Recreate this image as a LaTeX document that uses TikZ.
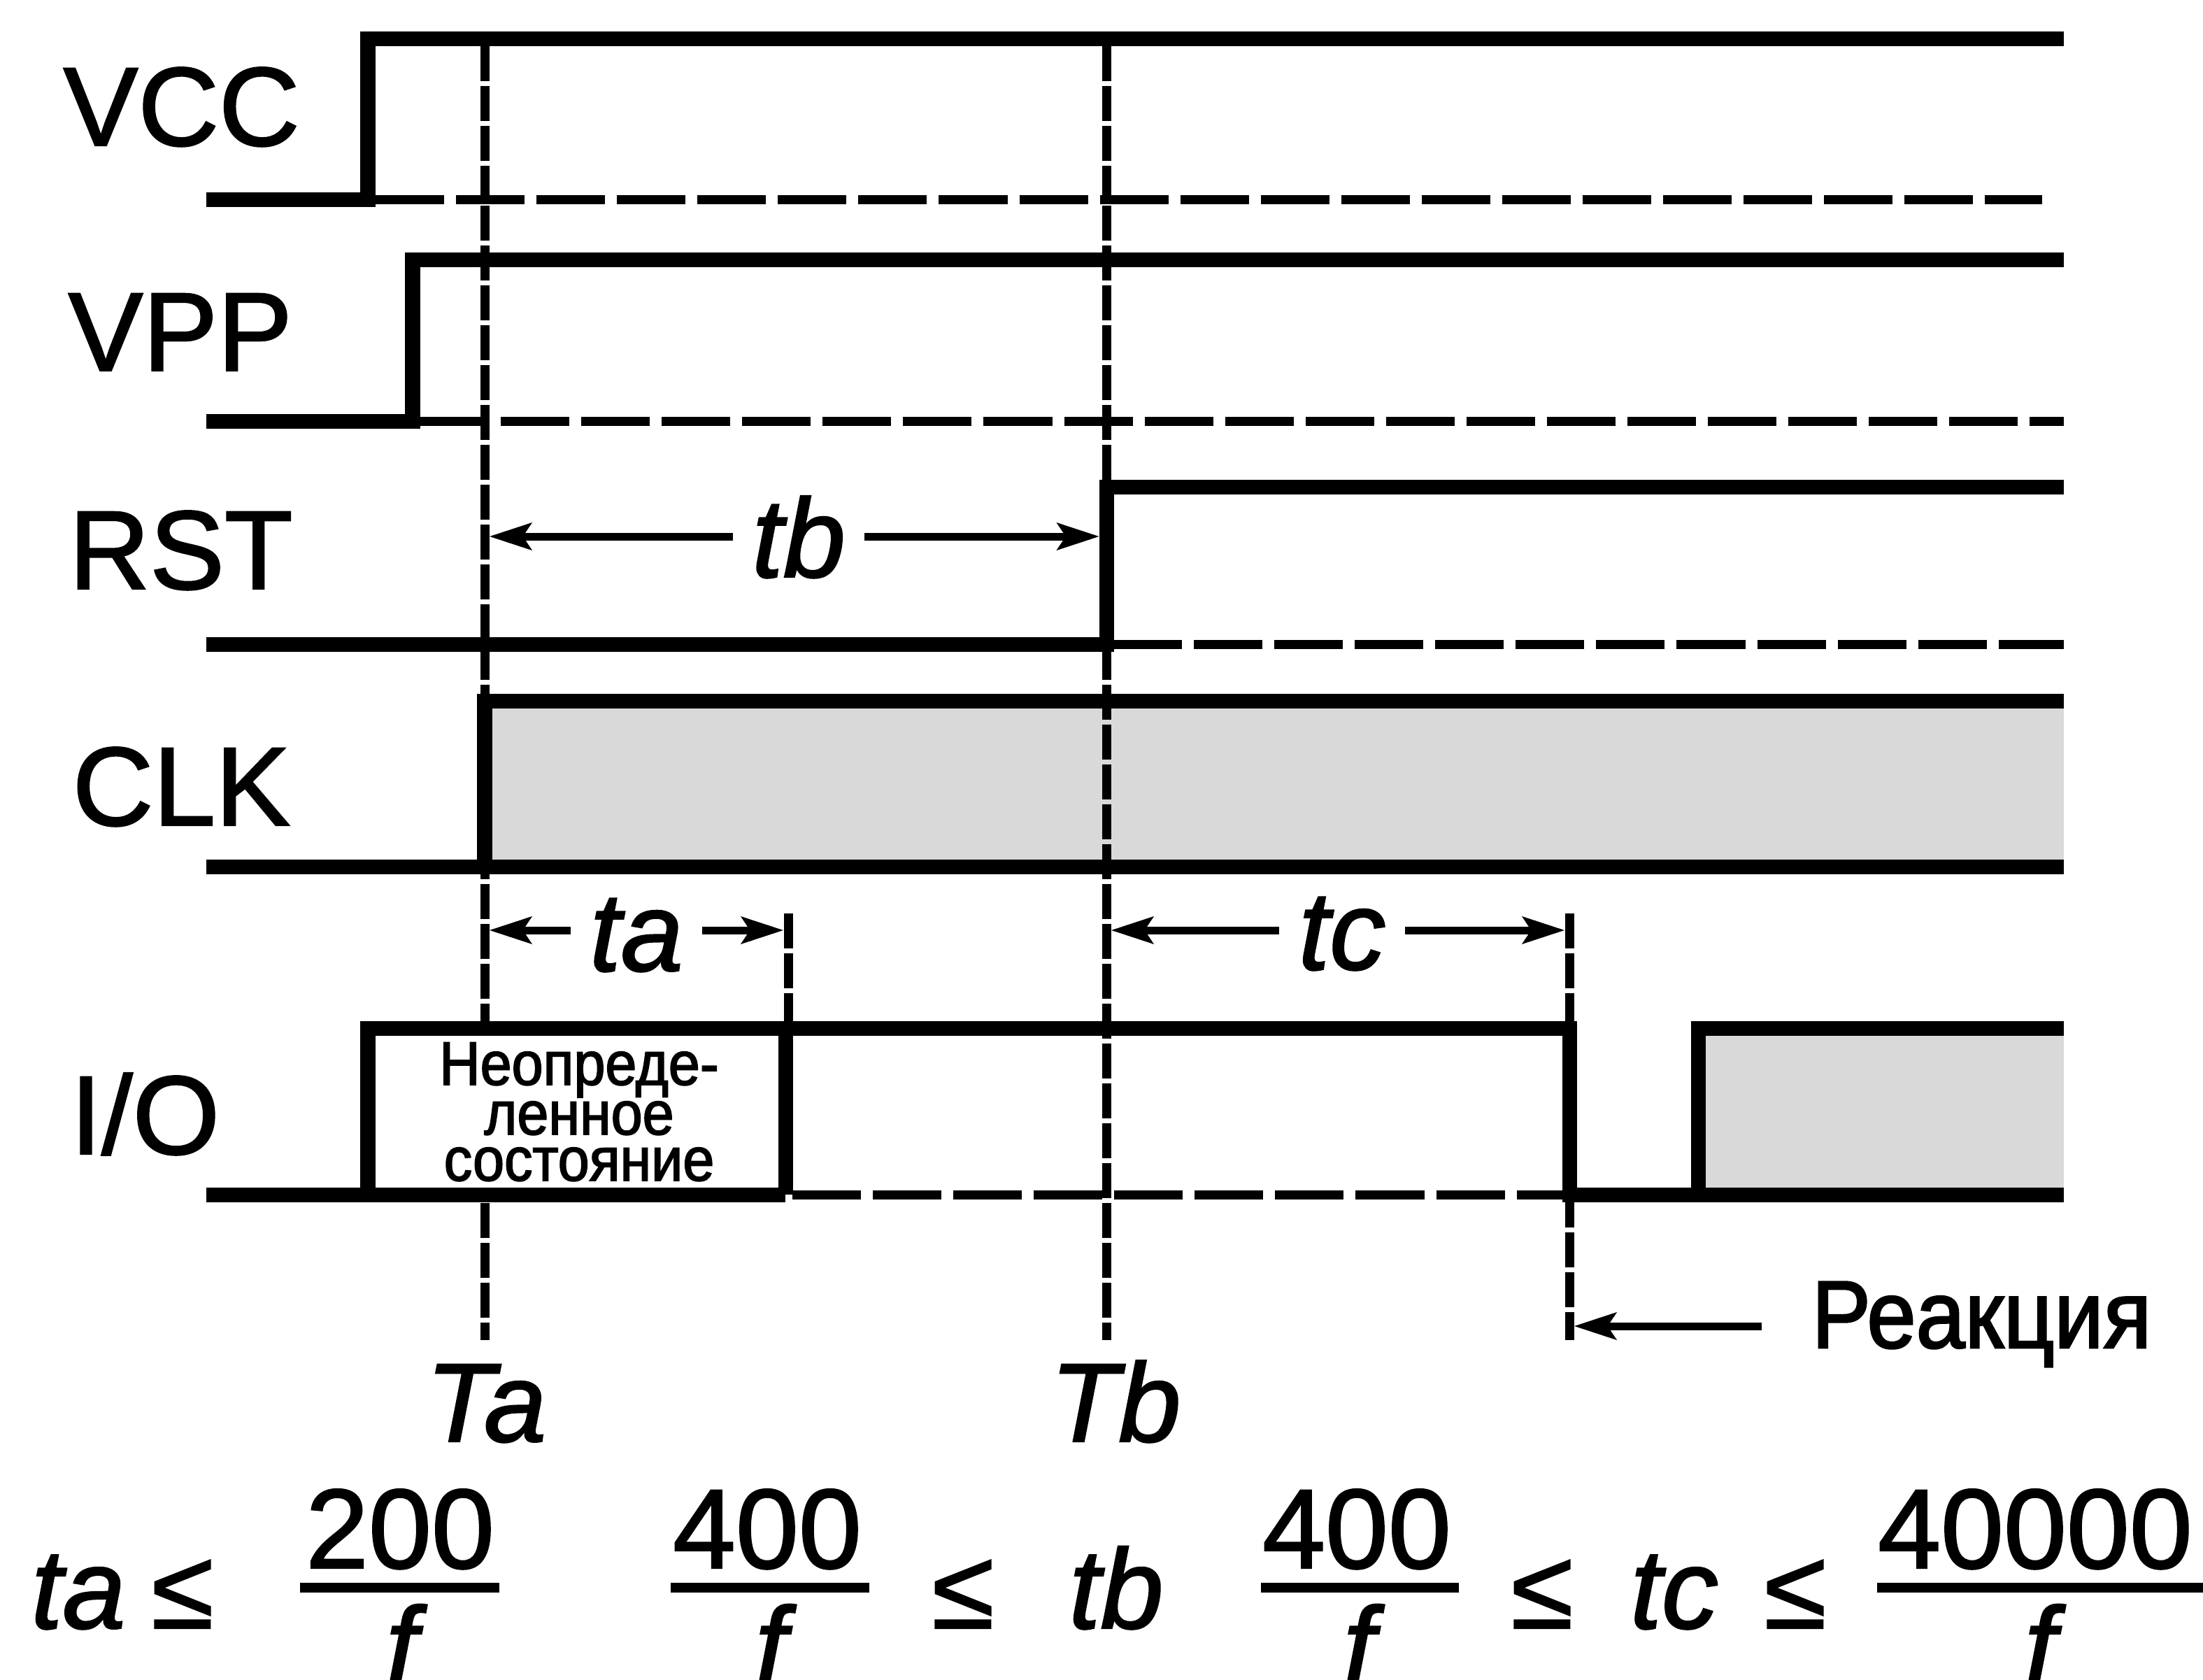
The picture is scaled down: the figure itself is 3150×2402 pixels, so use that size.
\documentclass[tikz,border=0pt]{standalone}
\usepackage{fontspec}
\setmainfont{Liberation Sans}[FakeBold=1.5]
\newfontfamily\narrowfont{Liberation Sans}[FakeStretch=0.92,FakeBold=2]
\usetikzlibrary{arrows.meta}
\definecolor{fillgray}{RGB}{217,217,217}
\begin{document}
\begin{tikzpicture}[x=0.01cm,y=-0.01cm,
  sig/.style={line width=0.21cm, line join=miter, line cap=butt},
  lowdash/.style={line width=0.13cm, dash pattern=on 0.98cm off 0.17cm},
  vdash/.style={line width=0.13cm, dash pattern=on 0.5cm off 0.07cm},
  dimarrow/.style={line width=0.11cm, -{Stealth[length=0.6cm,width=0.38cm,inset=0.12cm]}},
  siglabel/.style={anchor=base west, inner sep=0pt, font=\fontsize{45.5}{50}\selectfont},
  tlabel/.style={anchor=base, inner ysep=0pt, inner xsep=0.27cm, font=\fontsize{45.5}{50}\selectfont\itshape},
  boxtext/.style={anchor=base, inner sep=0pt, font=\fontsize{25}{20}\narrowfont},
  formula/.style={anchor=base, inner sep=0pt, font=\fontsize{46}{50}\selectfont},
  fitalic/.style={formula, font=\fontsize{46}{50}\selectfont\itshape},
  fbar/.style={line width=0.14cm}
]
\useasboundingbox (0,0) rectangle (3150,2402);

% gray fills
\fill[fillgray] (693,1002) rectangle (2951,1239);
\fill[fillgray] (2428,1470) rectangle (2951,1708);

% vertical dashed guide lines
\draw[vdash] (693,66) -- (693,1916);
\draw[vdash] (1582,66) -- (1582,1916);
\draw[vdash] (1127,1306) -- (1127,1470);
\draw[vdash] (2244,1306) -- (2244,1916);

% blank interior of the undefined-state box
\fill[white] (526,1470) rectangle (1123,1708);

% horizontal dashed low levels
\draw[lowdash] (537,285) -- (2920,285);
\draw[lowdash] (601,602) -- (2951,602);
\draw[lowdash] (1592,921) -- (2951,921);
\draw[lowdash] (1133,1708) -- (2234,1708);

% signals
\draw[sig] (295,285) -- (526,285) -- (526,55) -- (2951,55);
\draw[sig] (295,602) -- (590,602) -- (590,371) -- (2951,371);
\draw[sig] (295,921) -- (1582,921) -- (1582,696) -- (2951,696);
\draw[sig] (295,1239) -- (2951,1239);
\draw[sig] (693,1239) -- (693,1002) -- (2951,1002);
\draw[sig] (295,1708) -- (1123,1708);
\draw[sig] (526,1708) -- (526,1470) -- (2244,1470) -- (2244,1708) -- (2951,1708);
\draw[sig] (1123,1470) -- (1123,1708);
\draw[sig] (2428,1708) -- (2428,1470) -- (2951,1470);

% signal names
\node[siglabel] (lvcc) at (90,208) {VCC};
\node[siglabel] (lvpp) at (97,530) {VPP};
\node[siglabel] (lrst) at (98,842) {RST};
\node[siglabel] (lclk) at (103,1180) {CLK};
\node[siglabel] (lio) at (100,1650) {I/O};

% box text
\node[boxtext] (bt1) at (828,1551) {Неопреде-};
\node[boxtext] (bt2) at (828,1622) {ленное};
\node[boxtext] (bt3) at (828,1688) {состояние};

% dimension labels and arrows
\coordinate (tbL) at (699.5,767);
\coordinate (tbR) at (1572,767);
\node[tlabel] (tb) at (1142,825) {tb};
\draw[dimarrow] (tb.west |- tbL) -- (tbL);
\draw[dimarrow] (tb.east |- tbR) -- (tbR);

\coordinate (taL) at (699.5,1330);
\coordinate (taR) at (1120.5,1330);
\node[tlabel] (ta) at (910,1388) {ta};
\draw[dimarrow] (ta.west |- taL) -- (taL);
\draw[dimarrow] (ta.east |- taR) -- (taR);

\coordinate (tcL) at (1588.5,1330);
\coordinate (tcR) at (2237.5,1330);
\node[tlabel] (tc) at (1919,1386) {tc};
\draw[dimarrow] (tc.west |- tcL) -- (tcL);
\draw[dimarrow] (tc.east |- tcR) -- (tcR);

% reaction
\node[anchor=base west, inner sep=0pt, font=\fontsize{39}{44}\narrowfont] (reak) at (2590,1927) {Реакция};
\coordinate (rtail) at (2519,1896);
\coordinate (rtip) at (2250.5,1896);
\draw[dimarrow] (rtail) -- (rtip);

% time marks
\node[tlabel, inner xsep=0pt] (Ta) at (695,2061) {Ta};
\node[tlabel, inner xsep=0pt] (Tb) at (1595,2061) {Tb};

% formulas
\node[fitalic] (f1a) at (112,2328) {ta};
\node[formula] (le1) at (261,2328) {≤};
\node[formula] (n1) at (572,2242) {200};
\draw[fbar] (429,2270) -- (714,2270);
\node[fitalic] (d1) at (574,2411) {f};

\node[formula] (n2) at (1097,2242) {400};
\draw[fbar] (959,2270) -- (1243,2270);
\node[fitalic] (d2) at (1102,2411) {f};
\node[formula] (le2) at (1377,2328) {≤};
\node[fitalic] (f2b) at (1596,2328) {tb};

\node[formula] (n3) at (1940,2242) {400};
\draw[fbar] (1803,2270) -- (2086,2270);
\node[fitalic] (d3) at (1943,2411) {f};
\node[formula] (le3) at (2205,2328) {≤};
\node[fitalic] (f3c) at (2394,2328) {tc};
\node[formula] (le4) at (2567,2328) {≤};

\node[formula] (n4) at (2910,2242) {40000};
\draw[fbar] (2684,2270) -- (3150,2270);
\node[fitalic] (d4) at (2917,2411) {f};
\end{tikzpicture}
\end{document}
